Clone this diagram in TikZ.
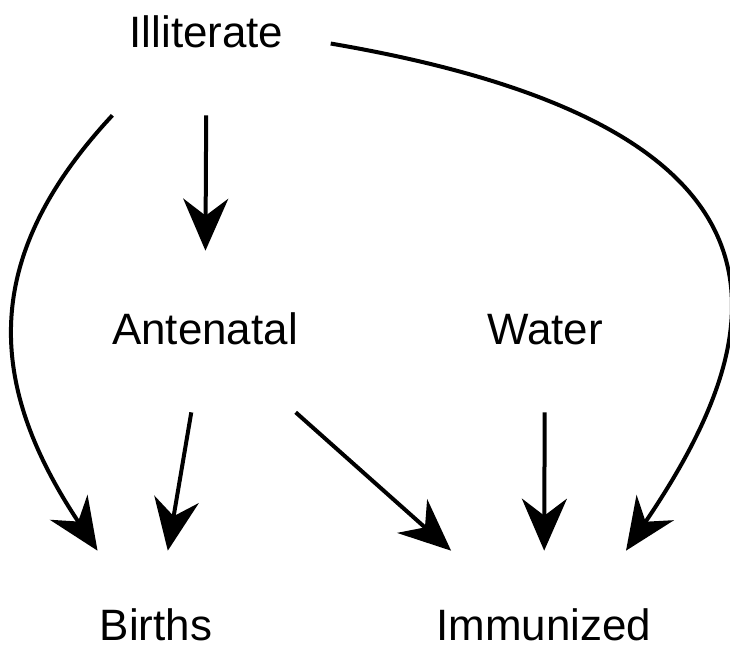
\documentclass[tikz,border=0pt]{standalone}
\usepackage{fontspec}
\setmainfont{Liberation Sans}
\usetikzlibrary{arrows.meta}

\begin{document}
\begin{tikzpicture}[
    x=0.02cm, y=-0.02cm,
    every node/.style={font=\fontsize{25}{30}\selectfont},
    varbox/.style={rectangle, inner sep=0pt, inner xsep=0.94cm, text height=1.86cm, text depth=1.36cm, anchor=base},
    arrow/.style={-{Stealth[length=1.04cm, width=0.9cm, inset=0.34cm]}, line width=0.08cm}
]
\useasboundingbox (0,0) rectangle (730,650);

% Variables
\node[varbox, text height=0.8cm] (ill) at (206.5,47) {Illiterate};
\node[varbox] (ant) at (205,344) {Antenatal};
\node[varbox] (wat) at (545,344) {Water};
\node[varbox, text height=1.78cm, text depth=0.1cm] (bir) at (156,640) {Births};
\node[varbox, text height=1.78cm, text depth=0.1cm] (imm) at (544,640) {Immunized};

% Straight edges
\draw[arrow] (ill) -- (ant);
\draw[arrow] (ant) -- (bir.76);
\draw[arrow] (ant) -- (imm.153);
\draw[arrow] (wat) -- (imm);

% Curved edges
\draw[arrow] (ill.-150) .. controls +(-135,145) and +(-109,-164) .. (bir.141);
\draw[arrow] (ill.8) .. controls +(503,86) and +(141,-208) .. (imm.30);

\end{tikzpicture}
\end{document}
